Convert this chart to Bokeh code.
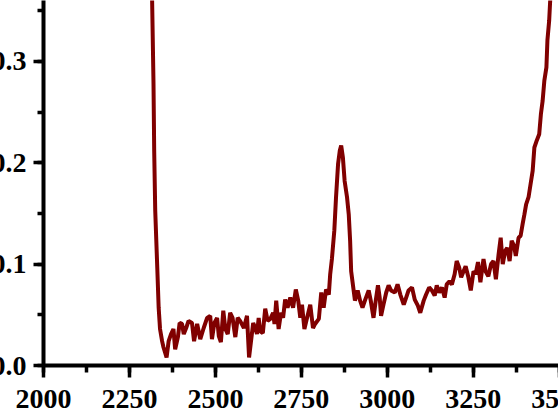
from bokeh.plotting import figure
from bokeh.layouts import column
from bokeh.models import SingleIntervalTicker, NumeralTickFormatter, Range1d
from bokeh.embed import file_html
from bokeh.resources import INLINE

wavenumber = [2310, 2316, 2320, 2322, 2325, 2331, 2335, 2339, 2345, 2349, 2358, 2364, 2371, 2378, 2383,
              2391, 2396, 2403, 2408, 2415, 2422, 2432, 2438, 2447, 2456, 2466, 2476, 2485, 2490, 2497,
              2505, 2510, 2516, 2523, 2529, 2536, 2543, 2550, 2558, 2565, 2572, 2583, 2592, 2598, 2610,
              2616, 2621, 2626, 2630, 2638, 2645, 2652, 2660, 2668, 2672, 2677, 2684, 2691, 2697, 2703,
              2710, 2718, 2726, 2734, 2741, 2747, 2752, 2759, 2766, 2776, 2784, 2790, 2801, 2808, 2815,
              2822, 2830, 2834, 2839, 2846, 2851, 2857, 2862, 2866, 2871, 2876, 2883, 2888, 2892, 2895,
              2900, 2906, 2914, 2921, 2928, 2936, 2946, 2952, 2960, 2967, 2973, 2978, 2982, 2989, 2997,
              3004, 3011, 3022, 3030, 3038, 3048, 3055, 3062, 3072, 3080, 3089, 3096, 3106, 3113, 3122,
              3130, 3138, 3144, 3151, 3159, 3167, 3173, 3181, 3188, 3196, 3202, 3209, 3215, 3222, 3228,
              3236, 3243, 3251, 3257, 3264, 3271, 3280, 3286, 3294, 3302, 3309, 3316, 3324, 3330, 3336,
              3343, 3349, 3356, 3362, 3369, 3374, 3382, 3388, 3394, 3399, 3404, 3411, 3417, 3423, 3428,
              3435, 3442, 3447, 3452, 3457, 3463, 3466, 3471, 3474, 3480]
absorbance = [0.450, 0.360, 0.278, 0.212, 0.153, 0.096, 0.057, 0.036, 0.024, 0.018, 0.008, 0.024, 0.031, 0.036, 0.016,
              0.028, 0.042, 0.041, 0.031, 0.037, 0.044, 0.042, 0.024, 0.041, 0.026, 0.037, 0.047, 0.049, 0.026, 0.042,
              0.047, 0.029, 0.023, 0.054, 0.036, 0.031, 0.052, 0.047, 0.028, 0.047, 0.044, 0.037, 0.049, 0.008, 0.042,
              0.037, 0.031, 0.047, 0.034, 0.032, 0.056, 0.044, 0.046, 0.052, 0.041, 0.064, 0.036, 0.052, 0.047, 0.065,
              0.057, 0.067, 0.057, 0.075, 0.064, 0.047, 0.060, 0.036, 0.046, 0.060, 0.037, 0.041, 0.046, 0.072, 0.057,
              0.075, 0.070, 0.090, 0.105, 0.133, 0.166, 0.199, 0.212, 0.217, 0.205, 0.182, 0.166, 0.149, 0.123, 0.093,
              0.080, 0.064, 0.074, 0.064, 0.057, 0.065, 0.074, 0.064, 0.047, 0.065, 0.079, 0.067, 0.049, 0.060, 0.072,
              0.079, 0.074, 0.072, 0.080, 0.070, 0.060, 0.067, 0.074, 0.077, 0.065, 0.059, 0.052, 0.064, 0.070, 0.077,
              0.074, 0.069, 0.079, 0.072, 0.077, 0.067, 0.080, 0.083, 0.080, 0.090, 0.103, 0.097, 0.087, 0.093, 0.098,
              0.087, 0.074, 0.093, 0.090, 0.102, 0.082, 0.105, 0.093, 0.088, 0.100, 0.103, 0.085, 0.110, 0.126, 0.100,
              0.113, 0.116, 0.103, 0.123, 0.118, 0.108, 0.126, 0.128, 0.140, 0.149, 0.159, 0.166, 0.179, 0.192, 0.215,
              0.222, 0.228, 0.248, 0.261, 0.281, 0.294, 0.321, 0.340, 0.360, 0.400]

x_start, x_end, x_step = 2000, 3600, 250
y_start, y_end, y_step = 0.0, 0.36, 0.1

p = figure(width=633, height=420,
           x_range=Range1d(x_start, x_end), y_range=Range1d(y_start, y_end),
           output_backend="svg", toolbar_location=None,
           min_border_left=83, min_border_right=0, min_border_top=0, min_border_bottom=55,
           styles={"margin-left": "-40px", "flex-shrink": "0", "min-width": "633px"})

p.outline_line_color = None
p.xgrid.visible = False
p.ygrid.visible = False
p.background_fill_color = "white"
p.border_fill_color = "white"

p.line(wavenumber, absorbance, line_color="#800000", line_width=4)

p.xaxis.ticker = SingleIntervalTicker(interval=x_step, num_minor_ticks=2)
p.yaxis.ticker = SingleIntervalTicker(interval=y_step, num_minor_ticks=2)
p.yaxis.formatter = NumeralTickFormatter(format="0.0")

for ax in (p.xaxis[0], p.yaxis[0]):
    ax.axis_line_width = 4
    ax.axis_line_color = "black"
    ax.major_tick_line_width = 3.5
    ax.minor_tick_line_width = 3.5
    ax.major_tick_line_color = "black"
    ax.minor_tick_line_color = "black"
    ax.major_tick_in = 0
    ax.minor_tick_in = 0
    ax.major_label_text_font = "Liberation Serif"
    ax.major_label_text_font_style = "bold"
    ax.major_label_text_font_size = "28px"
    ax.major_label_text_color = "black"

p.xaxis.major_tick_out = 12
p.xaxis.minor_tick_out = 7
p.xaxis.major_label_standoff = 12
p.yaxis.major_tick_out = 10
p.yaxis.minor_tick_out = 6
p.yaxis.major_label_standoff = 7

layout = column(p, width=593, height=420,
                styles={"overflow": "hidden", "max-width": "558px"})

open("out.html", "w").write(file_html(layout, INLINE))
